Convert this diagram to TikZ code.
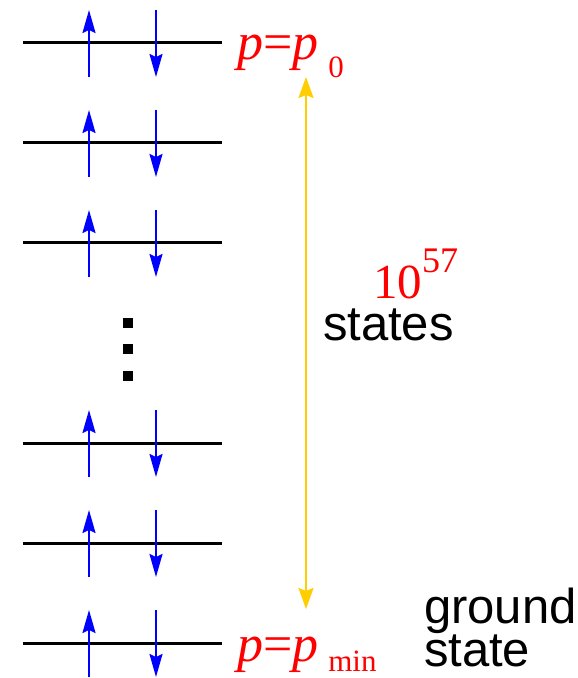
\documentclass[tikz,border=0pt]{standalone}
\usepackage{fontspec}
\setmainfont{Liberation Serif}
\setsansfont{Liberation Sans}
\usetikzlibrary{arrows.meta}

\definecolor{gold}{RGB}{255,205,0}

\begin{document}
\begin{tikzpicture}[
  x=0.5pt, y=-0.5pt,
  every node/.style={inner sep=0pt, outer sep=0pt, anchor=base west},
  level/.style={line width=1.5pt, black},
  spin/.style={line width=1pt, blue, -{Stealth[length=11.5pt,width=6.5pt,inset=1.5pt]}},
  bigserif/.style={font=\fontsize{26}{28}\selectfont, text=red},
  bigsans/.style={font=\sffamily\fontsize{24.5}{26}\selectfont}
]
\useasboundingbox (0,0) rectangle (577,678);

% ---------- Levels with spin pairs ----------
\foreach \y in {43,143,243,443,543,643}{
  \draw[level] (23,\y) -- (222,\y);
  \draw[spin] (89,\y+34) -- (89,\y-33);   % spin up
  \draw[spin] (156,\y-33) -- (156,\y+34); % spin down
}

% ---------- Vertical dots ----------
\foreach \y in {323,348.5,376}
  \fill (123,\y-5) rectangle (133,\y+5);

% ---------- Momentum labels ----------
\node[bigserif] (ptop) at (237,60)
  {\textit{p}=\textit{p}\hspace{5pt}\raisebox{-8.75pt}{\fontsize{15.5}{16}\selectfont 0}};
\node[bigserif] (pmin) at (237,661)
  {\textit{p}=\textit{p}\hspace{5pt}\raisebox{-5.25pt}{\fontsize{15.5}{16}\selectfont min}};

% ---------- Range arrow ----------
\coordinate (rtop) at (306,77);
\coordinate (rbot) at (306,609);
\draw[line width=1pt, gold, {Stealth[length=10.5pt,width=7.5pt,inset=1.5pt]}-{Stealth[length=10.5pt,width=7.5pt,inset=1.5pt]}] (rtop) -- (rbot);

% ---------- Count of states ----------
\node[bigserif, font=\fontsize{24.5}{26}\selectfont] (count) at (373,298)
  {10\raisebox{13pt}{\fontsize{18}{20}\selectfont 57}};
\node[bigsans] (states) at (323,340) {states};

% ---------- Ground state ----------
\node[bigsans] (ground) at (424,623) {ground};
\node[bigsans] (gstate) at (424,666) {state};

\end{tikzpicture}
\end{document}
